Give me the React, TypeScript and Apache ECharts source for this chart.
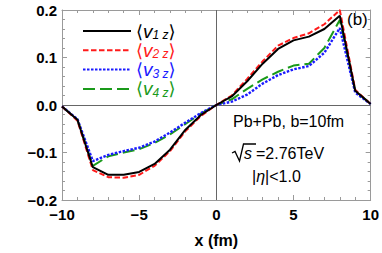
import React, { useEffect, useRef } from "react";
import * as echarts from "echarts";

const xValues = [-10, -9, -8, -7, -6, -5, -4, -3, -2, -1, 0, 1, 2, 3, 4, 5, 6, 7, 8, 9, 10];
const v1 = [-0.003, -0.031, -0.131, -0.147, -0.147, -0.141, -0.124, -0.094, -0.052, -0.021, 0, 0.018, 0.05, 0.087, 0.118, 0.136, 0.144, 0.16, 0.188, 0.03, 0.002];
const v2 = [-0.003, -0.033, -0.137, -0.152, -0.153, -0.147, -0.128, -0.097, -0.055, -0.023, 0, 0.02, 0.055, 0.092, 0.125, 0.141, 0.151, 0.17, 0.2, 0.032, 0.002];
const v3 = [-0.003, -0.03, -0.118, -0.105, -0.097, -0.09, -0.077, -0.058, -0.037, -0.017, 0, 0.007, 0.022, 0.045, 0.063, 0.075, 0.082, 0.11, 0.162, 0.026, 0.002];
const v4 = [-0.003, -0.031, -0.128, -0.108, -0.1, -0.093, -0.08, -0.062, -0.04, -0.018, 0, 0.012, 0.034, 0.054, 0.07, 0.083, 0.087, 0.12, 0.179, 0.03, 0.002];
const seriesNames = ["v1", "v2", "v3", "v4"];
const seriesColors = ["#000000", "#ff1a1a", "#1a1aff", "#1a9a1a"];
const seriesDash: any[] = ["solid", [5.5, 2.5], [2.5, 1.5], [12, 5]];
const seriesWidth = [2, 2, 2.4, 2];

const FONT = "Liberation Sans, Arial, sans-serif";
const frame = "#9a9a9a";
const minus = (s: string) => s.replace("-", "\u2212");

export default function App() {
  const ref = useRef<HTMLDivElement>(null);
  useEffect(() => {
    const chart = echarts.init(ref.current!, undefined, { renderer: "svg" });
    const datasets = [v1, v2, v3, v4];
    const legends = seriesNames.map((n, i) => ({
      orient: "horizontal",
      left: 77,
      top: 16.5 + i * 19.3,
      itemWidth: 48,
      itemHeight: 14,
      itemGap: 0,
      data: [n],
      itemStyle: { opacity: 0 },
      formatter: () => `{b|\u27e8}{v|v}{s|${i + 1} z}{b|\u27e9}`,
      textStyle: {
        rich: {
          b: { color: seriesColors[i], fontSize: 18, fontFamily: "DejaVu Sans" },
          v: { color: seriesColors[i], fontSize: 19, fontStyle: "italic", fontFamily: FONT },
          s: { color: seriesColors[i], fontSize: 12, fontStyle: "italic", fontFamily: FONT, padding: [8, 0, 0, 0] },
        },
      },
    }));
    const axisCommon = {
      type: "value" as const,
      axisLine: { show: true, onZero: false, lineStyle: { color: frame, width: 1 } },
      axisTick: { show: true, inside: true, length: 5, lineStyle: { color: frame } },
      minorTick: { show: true, splitNumber: 5, length: 3, lineStyle: { color: frame } },
      splitLine: { show: false },
    };
    chart.setOption({
      animation: false,
      grid: { left: 62, right: 9, top: 10, bottom: 51 },
      xAxis: [
        {
          ...axisCommon,
          position: "bottom",
          min: -10,
          max: 10,
          interval: 5,
          name: "x (fm)",
          nameLocation: "middle",
          nameGap: 32,
          nameTextStyle: { fontFamily: FONT, fontWeight: "bold", fontSize: 16, color: "#000" },
          axisLabel: {
            fontFamily: FONT, fontWeight: "bold", fontSize: 15, color: "#000", margin: 7,
            formatter: (v: number) => minus(String(v)),
          },
        },
        { ...axisCommon, position: "top", min: -10, max: 10, interval: 5, axisLabel: { show: false } },
      ],
      yAxis: [
        {
          ...axisCommon,
          position: "left",
          min: -0.2,
          max: 0.2,
          interval: 0.1,
          axisLabel: {
            fontFamily: FONT, fontWeight: "bold", fontSize: 15, color: "#000", margin: 5,
            formatter: (v: number) => minus((Math.abs(v) < 1e-9 ? 0 : v).toFixed(1)),
          },
        },
        { ...axisCommon, position: "right", min: -0.2, max: 0.2, interval: 0.1, axisLabel: { show: false } },
      ],
      legend: legends,
      graphic: [
        { type: "text", left: 233, top: 113, style: { text: "Pb+Pb, b=10fm", font: `16px ${FONT}`, fill: "#000" } },
        {
          type: "polyline",
          shape: { points: [[232, 153], [235, 151.5], [239.5, 161], [243.5, 144], [256, 144]] },
          style: { stroke: "#000", lineWidth: 1.3, fill: "none" },
        },
        { type: "text", left: 244, top: 145, style: { text: "s", font: `italic 16px ${FONT}`, fill: "#000" } },
        { type: "text", left: 256, top: 145, style: { text: "=2.76TeV", font: `16px ${FONT}`, fill: "#000" } },
        {
          type: "text", left: 252, top: 168,
          style: {
            text: "{n||}{i|\u03b7}{n||<1.0}",
            rich: {
              i: { fontSize: 16, fontStyle: "italic", fontFamily: FONT, fill: "#000" },
              n: { fontSize: 16, fontFamily: FONT, fill: "#000" },
            },
          },
        },
        { type: "text", left: 347, top: 11, style: { text: "(b)", font: `17px ${FONT}`, fill: "#000" } },
      ],
      series: [
        {
          type: "line",
          name: "zero",
          data: [],
          silent: true,
          markLine: {
            silent: true,
            symbol: "none",
            label: { show: false },
            lineStyle: { color: "#666", width: 1, type: "solid" },
            data: [{ xAxis: 0 }, { yAxis: 0 }],
          },
        },
        ...datasets.map((d, i) => ({
          type: "line",
          name: seriesNames[i],
          data: d.map((y, k) => [xValues[k], y]),
          showSymbol: false,
          symbol: "none",
          z: 10 - i,
          lineStyle: { color: seriesColors[i], width: seriesWidth[i], type: seriesDash[i] },
          itemStyle: { color: seriesColors[i] },
        })),
      ],
    });
    return () => chart.dispose();
  }, []);
  return <div ref={ref} style={{ width: 382, height: 253, position: "absolute", left: 0, top: 0 }} />;
}
